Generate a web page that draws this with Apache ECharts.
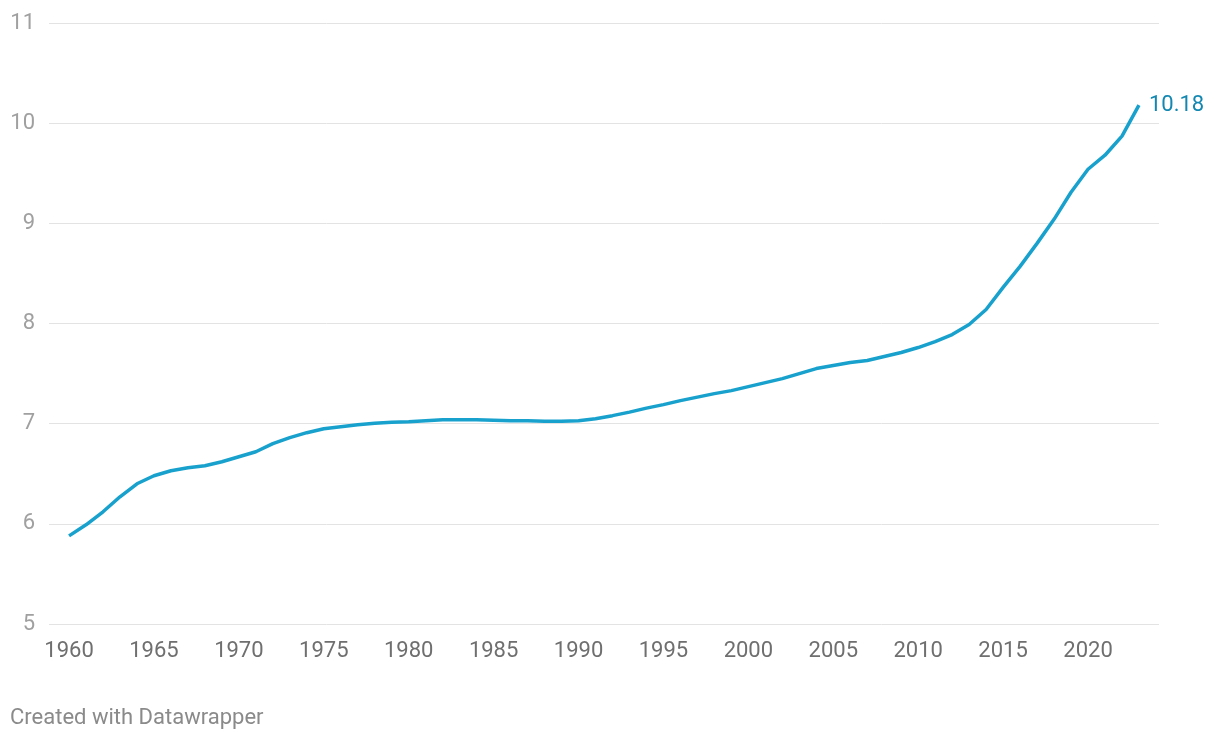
<!DOCTYPE html>
<html>
<head>
<meta charset="utf-8">
<script src="https://cdn.jsdelivr.net/npm/echarts@6/dist/echarts.min.js"></script>
<style>
html,body{margin:0;padding:0;background:#fff;}
#c{width:1220px;height:740px;}
</style>
</head>
<body>
<div id="c"></div>
<script>
const years = [];
for (let y = 1960; y <= 2023; y++) years.push(y);
const values = [
5.88,5.99,6.12,6.27,6.40,6.48,6.53,6.56,6.58,6.62,
6.67,6.72,6.80,6.86,6.91,6.95,6.97,6.99,7.005,7.015,
7.02,7.03,7.04,7.04,7.04,7.035,7.03,7.03,7.025,7.025,
7.03,7.05,7.08,7.115,7.155,7.19,7.23,7.265,7.30,7.33,
7.37,7.41,7.45,7.50,7.55,7.58,7.61,7.63,7.67,7.71,
7.76,7.82,7.89,7.99,8.14,8.36,8.57,8.80,9.04,9.31,
9.54,9.68,9.87,10.18
];
const xTickLabels = [1960,1965,1970,1975,1980,1985,1990,1995,2000,2005,2010,2015,2020];
const yTicks = [5,6,7,8,9,10,11];

const chart = echarts.init(document.getElementById('c'));
chart.setOption({
  animation: false,
  grid: {left: 49, right: 61, top: 23, bottom: 116, containLabel: false},
  xAxis: {
    type: 'value',
    min: 1958.82,
    max: 2024.18,
    axisLine: {show: false},
    axisTick: {show: false},
    splitLine: {show: false},
    axisLabel: {
      customValues: xTickLabels,
      color: '#6f6f6f',
      fontFamily: 'Roboto',
      fontSize: 22,
      margin: 16,
      formatter: v => String(v)
    }
  },
  yAxis: {
    type: 'value',
    min: 5,
    max: 11,
    interval: 1,
    axisLine: {show: false},
    axisTick: {show: false},
    splitLine: {show: true, lineStyle: {color: '#e3e3e3', width: 1}},
    axisLabel: {
      customValues: yTicks,
      color: '#a0a0a0',
      fontFamily: 'Roboto',
      fontSize: 22,
      margin: 14,
      verticalAlign: 'middle'
    }
  },
  series: [{
    type: 'line',
    data: years.map((y, i) => [y, values[i]]),
    showSymbol: false,
    smooth: false,
    lineStyle: {color: '#18a1cd', width: 3.5},
    itemStyle: {color: '#18a1cd'},
    endLabel: {
      show: true,
      formatter: p => p.value[1].toFixed(2),
      color: '#1287b1',
      fontFamily: 'Roboto',
      fontSize: 22,
      distance: 10
    }
  }],
  graphic: [{
    type: 'text',
    left: 10,
    top: 707,
    style: {
      text: 'Created with Datawrapper',
      fill: '#8a8a8a',
      font: '22px Roboto'
    }
  }]
});
</script>
</body>
</html>
